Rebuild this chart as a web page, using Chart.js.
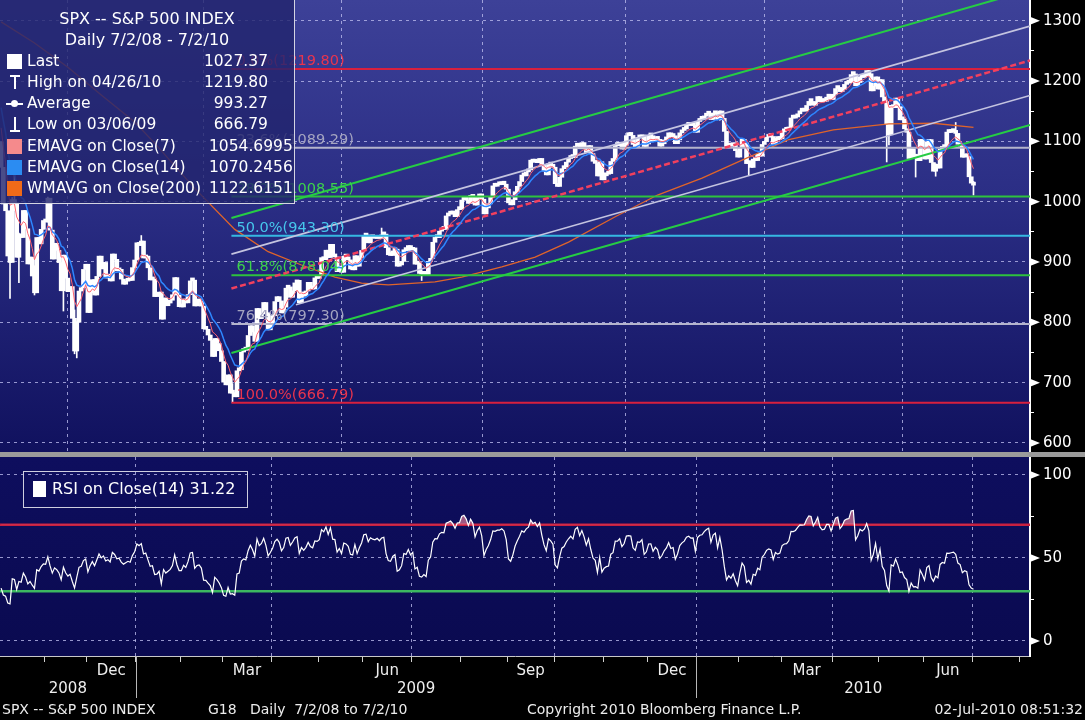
<!DOCTYPE html>
<html>
<head>
<meta charset="utf-8">
<title>SPX -- S&amp;P 500 INDEX</title>
<script src="https://cdn.jsdelivr.net/npm/chart.js@4.4.1/dist/chart.umd.min.js"></script>
<style>
  html, body { margin: 0; padding: 0; background: #000; }
  body { width: 1085px; height: 720px; position: relative; overflow: hidden;
         font-family: "DejaVu Sans", sans-serif; color: #fff; }
  canvas { position: absolute; left: 0; }
  #price { top: 0; }
  #rsi { top: 457px; }
  #sep { position: absolute; left: 0; top: 452px; width: 1085px; height: 5px; background: #9b9b9b; }
  #legend { position: absolute; left: -1px; top: -1px; width: 296px; height: 205px; box-sizing: border-box;
            border: 1px solid #d4d4e2; background: rgba(34, 37, 110, 0.82); }
  #legend .t { position: absolute; left: 0; width: 294px; text-align: center; font-size: 16px; line-height: 20px; white-space: nowrap; }
  #legend .r { position: absolute; font-size: 15.5px; line-height: 21px; height: 21px; white-space: nowrap; }
  #legend .v1 { left: 150px; width: 118px; text-align: right; }
  #legend .v2 { left: 209px; }
  .sw { position: absolute; width: 15px; height: 15px; }
  .ln { position: absolute; background: #fff; }
  #rsiLegend { position: absolute; left: 23px; top: 471px; width: 225px; height: 37px; box-sizing: border-box;
               border: 1px solid #cfcfdf; }
  #rsiLegend .sw { left: 9px; top: 9px; width: 13px; height: 16px; background: #fff; }
  #rsiLegend span { position: absolute; left: 28px; top: 7px; font-size: 16px; line-height: 20px; white-space: nowrap; }
  #foot span { position: absolute; top: 700px; font-size: 14px; line-height: 18px; color: #ececec; white-space: pre; }
</style>
</head>
<body>
<canvas id="price" width="1085" height="452"></canvas>
<div id="sep"></div>
<canvas id="rsi" width="1085" height="263"></canvas>

<div id="legend">
  <div class="t" style="top:9px">SPX -- S&amp;P 500 INDEX</div>
  <div class="t" style="top:30px">Daily 7/2/08 - 7/2/10</div>

  <div class="sw" style="left:7px;top:54px;background:#fff"></div>
  <div class="r" style="left:27px;top:51px">Last</div>
  <div class="r v1" style="top:51px">1027.37</div>

  <div class="ln" style="left:10px;top:75px;width:10px;height:2px"></div>
  <div class="ln" style="left:14px;top:75px;width:2px;height:14px"></div>
  <div class="r" style="left:27px;top:72px">High on 04/26/10</div>
  <div class="r v1" style="top:72px">1219.80</div>

  <div class="ln" style="left:6px;top:103px;width:17px;height:2px"></div>
  <div class="ln" style="left:11px;top:100px;width:7px;height:7px;border-radius:50%"></div>
  <div class="r" style="left:27px;top:93px">Average</div>
  <div class="r v1" style="top:93px">993.27</div>

  <div class="ln" style="left:14px;top:117px;width:2px;height:14px"></div>
  <div class="ln" style="left:10px;top:130px;width:10px;height:2px"></div>
  <div class="r" style="left:27px;top:114px">Low on 03/06/09</div>
  <div class="r v1" style="top:114px">666.79</div>

  <div class="sw" style="left:7px;top:139px;background:#f58a8c"></div>
  <div class="r" style="left:27px;top:136px">EMAVG on Close(7)</div>
  <div class="r v2" style="top:136px">1054.6995</div>

  <div class="sw" style="left:7px;top:160px;background:#2b8cf2"></div>
  <div class="r" style="left:27px;top:157px">EMAVG on Close(14)</div>
  <div class="r v2" style="top:157px">1070.2456</div>

  <div class="sw" style="left:7px;top:181px;background:#f06a18"></div>
  <div class="r" style="left:27px;top:178px">WMAVG on Close(200)</div>
  <div class="r v2" style="top:178px">1122.6151</div>
</div>

<div id="rsiLegend"><div class="sw"></div><span>RSI on Close(14) 31.22</span></div>

<div id="foot">
  <span style="left:2px">SPX -- S&amp;P 500 INDEX</span>
  <span style="left:208px">G18   Daily  7/2/08 to 7/2/10</span>
  <span style="left:527px">Copyright 2010 Bloomberg Finance L.P.</span>
  <span style="right:2px">02-Jul-2010 08:51:32</span>
</div>

<script>
// ---------------- data ----------------
// closes before the visible window, only used to seed the EMA and RSI (Aug 29 - Oct 3 2008)
const warmupCloses = [1282.83, 1277.58, 1274.98, 1236.83, 1242.31, 1267.79, 1224.51, 1232.04, 1249.05,
  1251.70, 1192.70, 1213.60, 1156.39, 1206.51, 1255.08, 1207.09, 1188.22, 1185.87, 1209.18, 1213.27,
  1106.39, 1166.36, 1161.06, 1114.28, 1099.23];

// daily closes, Oct 6 2008 .. Jul 1 2010 (one line per month)
const closes = [
  1056.89, 996.23, 984.94, 909.92, 899.22, 1003.35, 998.01, 907.84, 946.43, 940.55, 985.40, 955.05, 896.78, 908.11, 876.77, 848.92, 940.51, 930.09, 954.09, 968.75,
  966.30, 1005.75, 952.77, 904.88, 930.99, 919.21, 898.95, 852.30, 911.29, 873.29, 850.75, 859.12, 806.58, 752.44, 800.03, 851.81, 857.39, 887.68, 896.24,
  816.21, 848.81, 870.74, 845.22, 876.07, 909.70, 888.67, 899.24, 873.59, 879.73, 868.57, 913.18, 904.42, 885.28, 887.88, 871.63, 863.16, 868.15, 872.80, 869.42, 890.64, 903.25,
  931.80, 927.45, 934.70, 906.65, 909.73, 890.35, 870.26, 871.79, 842.62, 843.74, 850.12, 805.22, 840.24, 827.50, 831.95, 836.57, 845.71, 874.09, 845.14, 825.88,
  825.44, 838.51, 832.23, 845.85, 868.60, 869.89, 827.16, 833.74, 835.19, 826.84, 789.17, 788.42, 778.94, 770.05, 743.33, 773.14, 764.90, 752.83, 735.09,
  700.82, 696.33, 712.87, 682.55, 683.38, 676.53, 719.60, 721.36, 750.74, 756.55, 753.89, 778.12, 794.35, 784.04, 768.54, 822.92, 806.12, 813.88, 832.86, 815.94, 787.53, 797.87,
  811.08, 834.38, 842.50, 835.48, 815.55, 825.16, 856.56, 858.73, 841.50, 852.06, 865.30, 869.60, 832.39, 850.08, 843.55, 851.92, 866.23, 857.51, 855.16, 873.64, 872.81,
  877.52, 907.24, 903.80, 919.53, 907.39, 929.23, 909.24, 908.35, 883.92, 893.07, 882.88, 909.71, 908.13, 903.47, 888.33, 887.00, 910.33, 893.06, 906.83, 919.14,
  942.87, 944.74, 931.76, 942.46, 940.09, 939.14, 942.43, 939.15, 944.89, 946.21, 923.72, 911.97, 910.71, 918.37, 921.23, 893.04, 895.10, 900.94, 920.26, 918.90, 927.23, 919.32,
  923.33, 896.42, 898.72, 881.03, 879.56, 882.68, 879.13, 901.05, 905.84, 932.68, 940.74, 940.38, 951.13, 954.58, 954.07, 976.29, 979.26, 982.18, 979.62, 975.15, 986.75, 987.48,
  1002.63, 1005.65, 1002.72, 997.08, 1010.48, 1007.10, 994.35, 1005.81, 1012.73, 1004.09, 979.73, 989.67, 996.46, 1007.37, 1026.13, 1025.57, 1028.00, 1028.12, 1030.98, 1028.93, 1020.62,
  998.04, 994.75, 1003.24, 1016.40, 1025.39, 1033.37, 1044.14, 1042.73, 1049.34, 1052.63, 1068.76, 1065.49, 1068.30, 1064.66, 1071.66, 1060.87, 1050.78, 1044.38, 1062.98, 1060.61, 1057.08,
  1029.85, 1025.21, 1040.46, 1054.72, 1057.58, 1065.48, 1071.49, 1076.19, 1073.19, 1092.02, 1096.56, 1087.68, 1097.91, 1091.06, 1081.40, 1092.91, 1079.60, 1066.95, 1063.41, 1042.63, 1066.11, 1036.19,
  1042.88, 1045.41, 1046.50, 1066.63, 1069.30, 1093.08, 1093.01, 1098.51, 1087.24, 1093.48, 1109.30, 1110.32, 1109.80, 1094.90, 1091.38, 1106.24, 1105.65, 1110.63, 1091.49, 1095.63,
  1108.86, 1109.24, 1099.92, 1105.98, 1103.25, 1091.94, 1095.95, 1102.35, 1106.41, 1114.11, 1107.93, 1109.18, 1096.08, 1102.47, 1114.05, 1118.02, 1120.59, 1126.48, 1127.78, 1126.20, 1126.42, 1115.10,
  1132.99, 1136.52, 1137.14, 1141.69, 1144.98, 1146.98, 1136.22, 1145.68, 1148.46, 1136.03, 1150.23, 1138.04, 1116.48, 1091.76, 1096.78, 1092.17, 1097.50, 1084.53, 1073.87,
  1089.19, 1103.32, 1097.28, 1063.11, 1066.19, 1056.74, 1070.52, 1068.13, 1078.47, 1075.51, 1094.87, 1099.51, 1106.75, 1109.17, 1108.01, 1094.60, 1105.24, 1102.94, 1104.49,
  1115.71, 1118.31, 1118.79, 1122.97, 1138.70, 1138.50, 1140.45, 1145.61, 1150.24, 1149.99, 1150.51, 1159.46, 1166.21, 1165.83, 1159.90, 1165.81, 1174.17, 1167.72, 1165.73, 1166.59, 1173.22, 1173.27, 1169.43,
  1178.10, 1187.44, 1189.44, 1182.45, 1186.44, 1194.37, 1196.48, 1197.30, 1210.65, 1211.67, 1192.13, 1197.52, 1207.17, 1205.94, 1208.67, 1217.28, 1212.05, 1183.71, 1191.36, 1206.78, 1186.69,
  1202.26, 1173.60, 1165.87, 1128.15, 1110.88, 1159.73, 1155.79, 1171.67, 1157.44, 1135.68, 1136.94, 1120.80, 1115.05, 1071.59, 1087.69, 1073.65, 1074.03, 1067.95, 1103.06, 1089.41,
  1070.71, 1098.38, 1102.83, 1064.88, 1050.47, 1062.00, 1055.69, 1086.84, 1091.60, 1089.63, 1115.23, 1114.61, 1116.04, 1117.51, 1113.20, 1095.31, 1092.04, 1073.69, 1076.76, 1074.57, 1041.24, 1030.71,
  1027.37
];

// market holidays (trading-day calendar)
const holidays = ['2008-11-27', '2008-12-25', '2009-01-01', '2009-01-19', '2009-02-16', '2009-04-10',
  '2009-05-25', '2009-07-03', '2009-09-07', '2009-11-26', '2009-12-25', '2010-01-01', '2010-01-18',
  '2010-02-15', '2010-04-02', '2010-05-31', '2010-07-05'];

// intraday extremes that stick out of the candles
const wickDates = ['2008-10-10', '2008-10-13', '2008-10-14', '2008-10-16', '2008-10-27', '2008-11-04',
  '2008-11-13', '2008-11-20', '2008-11-21', '2009-01-06', '2009-03-06', '2009-06-11', '2009-07-08',
  '2010-01-19', '2010-02-05', '2010-04-26', '2010-05-06', '2010-05-07', '2010-05-25', '2010-06-08',
  '2010-06-21', '2010-07-01'];
const wickLows  = [839.80, 912.75, 985.44, 865.83, 845.27, 966.30, 818.69, 747.78, 741.02, 927.00, 666.79,
  939.00, 869.32, 1135.00, 1044.50, 1211.00, 1065.79, 1094.15, 1040.78, 1042.17, 1105.00, 1010.91];
const wickHighs = [936.36, 1006.93, 1044.31, 947.71, 893.78, 1007.51, 911.29, 820.52, 801.00, 943.85, 698.37,
  956.23, 886.80, 1150.45, 1067.13, 1219.80, 1167.58, 1135.13, 1074.75, 1062.75, 1131.23, 1033.58];

// WMAVG on Close(200)
const wmaDates = ['2008-10-06', '2008-10-27', '2008-11-17', '2008-12-09', '2008-12-31', '2009-01-14',
  '2009-02-10', '2009-03-09', '2009-03-30', '2009-04-21', '2009-05-12', '2009-05-29', '2009-06-16',
  '2009-07-16', '2009-08-03', '2009-08-27', '2009-09-18', '2009-10-09', '2009-11-09', '2009-12-07',
  '2010-01-06', '2010-02-02', '2010-03-04', '2010-04-01', '2010-05-07', '2010-06-07', '2010-07-01'];
const wmaValues = [1298, 1263, 1223, 1177, 1132, 1097, 1022, 954, 917, 895, 875, 865, 862,
  867, 875, 892, 908, 933, 975, 1011, 1039, 1069, 1103, 1119, 1129, 1130, 1123];

// Fibonacci retracement from the 03/06/09 low to the 04/26/10 high
const fibStart = '2009-03-06';
const fibLevels = [0, 23.6, 38.2, 50, 61.8, 76.4, 100];
const fibValues = [1219.80, 1089.29, 1008.55, 943.30, 878.04, 797.30, 666.79];

// trend channel: start date, value at start, value at the right edge
const channelStarts = ['2009-03-06', '2009-03-06', '2009-03-06', '2009-04-17', '2009-03-06'];
const channelFrom = [973, 913, 856, 829, 749];
const channelTo = [1351, 1291, 1234, 1176, 1127];

const rsiBands = [70, 30];
const priceTicks = [600, 700, 800, 900, 1000, 1100, 1200, 1300];
const rsiTicks = [0, 50, 100];
const monthNames = ['Jan', 'Feb', 'Mar', 'Apr', 'May', 'Jun', 'Jul', 'Aug', 'Sep', 'Oct', 'Nov', 'Dec'];
const labelledMonths = ['Mar', 'Jun', 'Sep', 'Dec'];

// ---------------- layout helpers ----------------
const FONT = '"DejaVu Sans", sans-serif';
const DOT = 'rgba(185,185,235,0.8)';
const X_MAX = 462.9;   // trading-day slots across the plot

const calendar = [];
for (let t = Date.UTC(2008, 9, 6); calendar.length < 463; t += 864e5) {
  const d = new Date(t), s = d.toISOString().slice(0, 10);
  if (d.getUTCDay() % 6 === 0 || holidays.includes(s)) continue;
  calendar.push(s);
}
const slot = s => calendar.indexOf(s) + 0.5;

const monthStarts = [];
calendar.forEach((s, i) => {
  if (i === 0 || s.slice(5, 7) !== calendar[i - 1].slice(5, 7))
    monthStarts.push({ i, y: s.slice(0, 4), m: +s.slice(5, 7) });
});
const monthBounds = monthStarts.filter(o => o.i > 0).map(o => o.i);
const quarterStarts = monthStarts.filter(o => o.i > 0 && o.m % 3 === 1).map(o => o.i);
const yearStarts = monthStarts.filter(o => o.i > 0 && o.m === 1).map(o => o.i);
const monthLabelTicks = [];
monthStarts.forEach((o, k) => {
  const end = k + 1 < monthStarts.length ? monthStarts[k + 1].i : X_MAX;
  const name = monthNames[o.m - 1];
  if (labelledMonths.includes(name)) monthLabelTicks.push({ v: (o.i + end) / 2, name });
});
const yearEdges = [0].concat(yearStarts, [X_MAX]);
const yearLabelTicks = yearEdges.slice(0, -1).map((e, k) => ({
  v: (e + yearEdges[k + 1]) / 2,
  name: k === 0 ? monthStarts[0].y : calendar[yearStarts[k - 1]].slice(0, 4)
}));

function ema(n) {
  const k = 2 / (n + 1);
  let e = warmupCloses[0];
  for (let i = 1; i < warmupCloses.length; i++) e = warmupCloses[i] * k + e * (1 - k);
  return closes.map(c => (e = c * k + e * (1 - k)));
}
function rsi(n) {
  const all = warmupCloses.concat(closes);
  let g = 0, l = 0;
  for (let i = 1; i <= n; i++) { const d = all[i] - all[i - 1]; if (d > 0) g += d; else l -= d; }
  g /= n; l /= n;
  const out = [];
  for (let i = n + 1; i < all.length; i++) {
    const d = all[i] - all[i - 1];
    g = (g * (n - 1) + Math.max(d, 0)) / n;
    l = (l * (n - 1) + Math.max(-d, 0)) / n;
    if (i >= warmupCloses.length) out.push(100 - 100 / (1 + g / l));
  }
  return out;
}

const lastWarm = warmupCloses[warmupCloses.length - 1];
const bodies = closes.map((c, i) => ({ x: i + 0.5, y: [i ? closes[i - 1] : lastWarm, c] }));
const wicks = wickDates.map((d, i) => ({ x: slot(d), y: [wickLows[i], wickHighs[i]] }));
const ema7 = ema(7).map((v, i) => ({ x: i + 0.5, y: v }));
const ema14 = ema(14).map((v, i) => ({ x: i + 0.5, y: v }));
const wma = wmaDates.map((d, i) => ({ x: slot(d), y: wmaValues[i] }));
const rsiLine = rsi(14).map((v, i) => ({ x: i + 0.5, y: v }));

const fibColors = ['#d8203e', '#b4b4cc', '#2ec23e', '#36b8e2', '#2ec23e', '#b4b4cc', '#d8203e'];
const fibText = ['#e8344e', '#a4a4c0', '#3cd24c', '#46c6ec', '#3cd24c', '#a4a4c0', '#e8344e'];
const chanColors = ['#26cc44', '#c4c4e0', '#f2405e', '#c4c4e0', '#26cc44'];

Chart.defaults.font.family = FONT;
Chart.defaults.animation = false;

// ---------------- plugins ----------------
const panelBg = {
  id: 'panelBg',
  beforeDraw(chart, args, opts) {
    const { ctx, chartArea: a } = chart;
    const g = ctx.createLinearGradient(0, a.top, 0, a.bottom);
    opts.stops.forEach(([p, c]) => g.addColorStop(p, c));
    ctx.save();
    ctx.fillStyle = g;
    ctx.fillRect(a.left, a.top, a.right - a.left, a.bottom - a.top);
    ctx.restore();
  }
};
const markers = {
  id: 'markers',
  afterDraw(chart) {
    const s = chart.scales.y, ctx = chart.ctx;
    ctx.save();
    ctx.fillStyle = '#fff';
    s.ticks.forEach(t => {
      if (!t.label) return;
      const y = s.getPixelForValue(t.value);
      ctx.beginPath();
      ctx.moveTo(s.left, y - 4); ctx.lineTo(s.left + 10, y); ctx.lineTo(s.left, y + 4);
      ctx.fill();
    });
    ctx.restore();
  }
};
const fibLabels = {
  id: 'fibLabels',
  afterDatasetsDraw(chart) {
    const { ctx, scales: { x, y } } = chart;
    ctx.save();
    ctx.font = '14.5px ' + FONT;
    ctx.textBaseline = 'alphabetic';
    fibValues.forEach((v, i) => {
      ctx.fillStyle = fibText[i];
      ctx.fillText(fibLevels[i].toFixed(1) + '%(' + v.toFixed(2) + ')',
        x.getPixelForValue(slot(fibStart)) + 4, y.getPixelForValue(v) - 4);
    });
    ctx.restore();
  }
};
const yearDividers = {
  id: 'yearDividers',
  afterDraw(chart) {
    const { ctx, chartArea: a, scales: { x } } = chart;
    ctx.save();
    ctx.strokeStyle = '#b8b8b8';
    ctx.lineWidth = 1;
    yearStarts.forEach(v => {
      const px = Math.round(x.getPixelForValue(v)) + 0.5;
      ctx.beginPath(); ctx.moveTo(px, a.bottom); ctx.lineTo(px, a.bottom + 42); ctx.stroke();
    });
    ctx.restore();
  }
};

const zeroPad = s => { s.paddingLeft = s.paddingRight = s.paddingTop = s.paddingBottom = 0; };

// ---------------- price panel ----------------
const lineDs = (data, color, width, order, extra) => Object.assign({
  type: 'line', data, borderColor: color, borderWidth: width, pointRadius: 0, tension: 0, order, fill: false
}, extra || {});

const priceSets = [
  { type: 'bar', data: bodies, backgroundColor: '#ffffff', borderWidth: 0, barThickness: 4,
    minBarLength: 3, grouped: false, order: 10 },
  { type: 'bar', data: wicks, backgroundColor: '#ffffff', borderWidth: 0, barThickness: 1,
    grouped: false, order: 10 },
  lineDs(wma, '#e0642a', 1.3, 7)
];
fibValues.forEach((v, i) => priceSets.push(lineDs(
  [{ x: slot(fibStart) - 0.5, y: v }, { x: X_MAX, y: v }], fibColors[i], 2, 6)));
channelFrom.forEach((v, i) => priceSets.push(lineDs(
  [{ x: slot(channelStarts[i]) - 0.5, y: v }, { x: X_MAX, y: channelTo[i] }], chanColors[i],
  i === 2 ? 2.5 : (i % 2 ? 1.6 : 2), 5, i === 2 ? { borderDash: [6, 3] } : {})));
priceSets.push(lineDs(ema14, '#2e86ff', 1.5, 3));
priceSets.push(lineDs(ema7, '#ff6470', 1, 2));

new Chart(document.getElementById('price'), {
  type: 'bar',
  data: { datasets: priceSets },
  options: {
    responsive: false, events: [], layout: { padding: 0 },
    plugins: { legend: { display: false }, tooltip: { enabled: false },
      panelBg: { stops: [[0, '#3d4198'], [0.45, '#2a2d84'], [1, '#10115e']] } },
    scales: {
      x: {
        type: 'linear', min: 0, max: X_MAX, offset: false,
        afterBuildTicks: s => { s.ticks = quarterStarts.map(v => ({ value: v })); },
        afterFit: s => { s.height = 0; zeroPad(s); },
        ticks: { display: false },
        grid: { color: DOT, lineWidth: 1, drawTicks: false },
        border: { display: false, dash: [3, 4] }
      },
      y: {
        position: 'right', min: 585, max: 1334.3,
        afterBuildTicks: s => {
          s.ticks = priceTicks.concat(priceTicks.map(v => v + 50)).sort((a, b) => a - b).map(v => ({ value: v }));
        },
        afterFit: s => { s.width = 55; zeroPad(s); },
        ticks: { autoSkip: false, color: '#fff', padding: 9, font: { size: 15 },
          callback: v => priceTicks.includes(v) ? String(v) : '' },
        grid: { color: c => c.tick && priceTicks.includes(c.tick.value) ? DOT : 'transparent',
          tickColor: '#fff', tickLength: 4, lineWidth: 1 },
        border: { display: true, color: '#fff', width: 2, dash: [3, 4] }
      }
    }
  },
  plugins: [panelBg, markers, fibLabels]
});

// ---------------- RSI panel ----------------
const rsiSets = [
  lineDs(rsiLine, '#ffffff', 1.2, 1, {
    fill: { target: { value: rsiBands[0] }, above: 'rgba(255,140,160,0.6)', below: 'rgba(0,0,0,0)' } }),
  lineDs([{ x: 0, y: rsiBands[0] }, { x: X_MAX, y: rsiBands[0] }], '#c82040', 2.5, 2),
  lineDs([{ x: 0, y: rsiBands[1] }, { x: X_MAX, y: rsiBands[1] }], '#3cb860', 2.5, 2)
];

new Chart(document.getElementById('rsi'), {
  type: 'line',
  data: { datasets: rsiSets },
  options: {
    responsive: false, events: [], layout: { padding: { top: 0, left: 0, right: 0, bottom: 22 } },
    plugins: { legend: { display: false }, tooltip: { enabled: false },
      panelBg: { stops: [[0, '#0e0e5e'], [1, '#0a0a50']] } },
    scales: {
      x: {
        type: 'linear', position: 'bottom', min: 0, max: X_MAX, offset: false, weight: 0,
        afterBuildTicks: s => { s.ticks = monthBounds.map(v => ({ value: v })); },
        afterFit: s => { s.height = 6; zeroPad(s); },
        ticks: { display: false },
        grid: { color: c => c.tick && quarterStarts.includes(c.tick.value) ? DOT : 'transparent',
          tickColor: '#d0d0d0', tickLength: 6, drawTicks: true, lineWidth: 1 },
        border: { display: true, color: '#c8c8c8', width: 1, dash: [3, 4] }
      },
      x2: {
        type: 'linear', position: 'bottom', min: 0, max: X_MAX, offset: false, weight: 1,
        afterBuildTicks: s => { s.ticks = monthLabelTicks.map(t => ({ value: t.v })); },
        afterFit: s => { s.height = 18; zeroPad(s); },
        ticks: { autoSkip: false, maxRotation: 0, padding: 0, color: '#eeeeee', font: { size: 15 },
          callback: (v, i) => monthLabelTicks[i].name },
        grid: { display: false, drawTicks: false },
        border: { display: false }
      },
      x3: {
        type: 'linear', position: 'bottom', min: 0, max: X_MAX, offset: false, weight: 2,
        afterBuildTicks: s => { s.ticks = yearLabelTicks.map(t => ({ value: t.v })); },
        afterFit: s => { s.height = 18; zeroPad(s); },
        ticks: { autoSkip: false, maxRotation: 0, padding: 0, color: '#eeeeee', font: { size: 15 },
          callback: (v, i) => yearLabelTicks[i].name },
        grid: { display: false, drawTicks: false },
        border: { display: false }
      },
      y: {
        position: 'right', min: -9.04, max: 110.84,
        afterBuildTicks: s => { s.ticks = [0, 25, 50, 75, 100].map(v => ({ value: v })); },
        afterFit: s => { s.width = 55; zeroPad(s); },
        ticks: { autoSkip: false, color: '#fff', padding: 9, font: { size: 15 },
          callback: v => rsiTicks.includes(v) ? String(v) : '' },
        grid: { color: c => c.tick && rsiTicks.includes(c.tick.value) ? DOT : 'transparent',
          tickColor: '#fff', tickLength: 4, lineWidth: 1 },
        border: { display: true, color: '#fff', width: 2, dash: [3, 4] }
      }
    }
  },
  plugins: [panelBg, markers, yearDividers]
});
</script>
</body>
</html>
